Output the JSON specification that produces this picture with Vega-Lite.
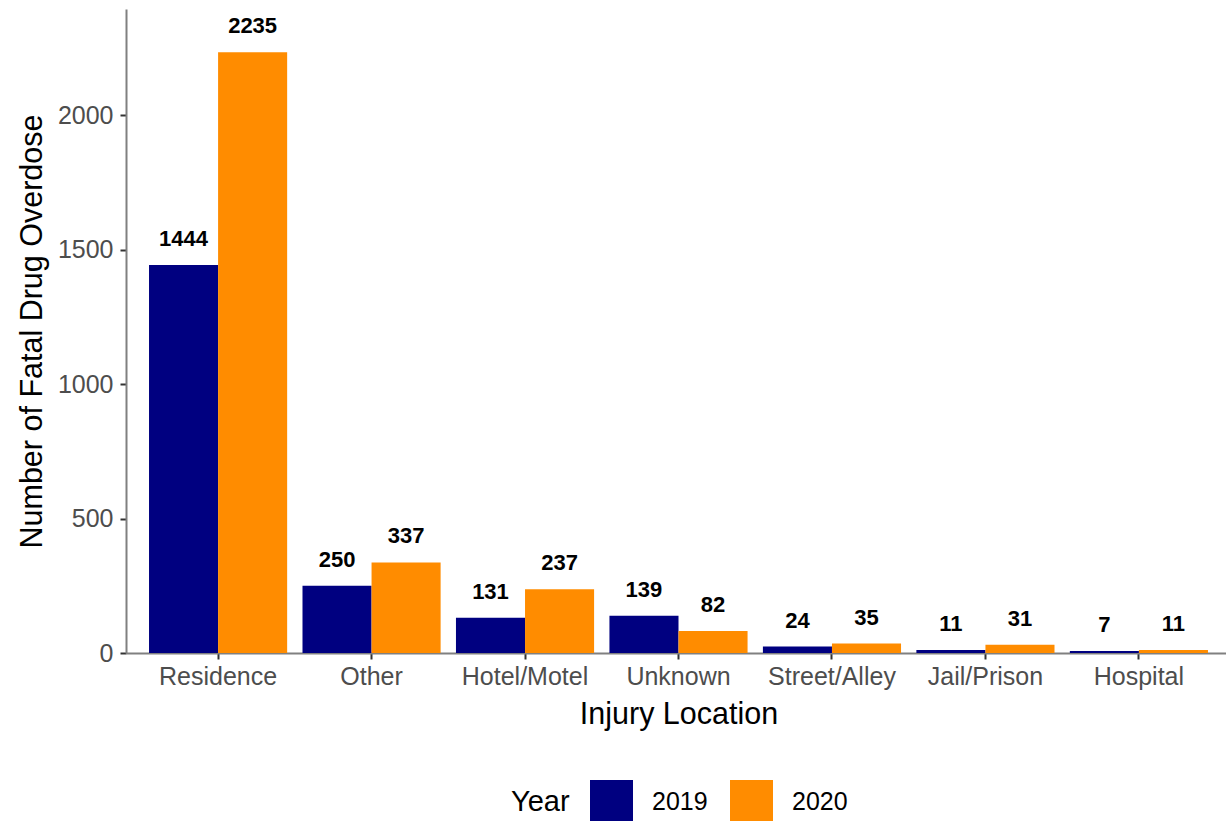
{
  "$schema": "https://vega.github.io/schema/vega-lite/v6.json",
  "width": 1105,
  "height": 644,
  "autosize": {"type": "none"},
  "padding": {"left": 126, "top": 9, "right": 0, "bottom": 168},
  "background": "white",
  "config": {
    "font": "Liberation Sans",
    "view": {"stroke": null},
    "axis": {
      "grid": false,
      "domainColor": "#808080",
      "domainWidth": 2,
      "tickColor": "#333333",
      "tickWidth": 2,
      "tickSize": 6,
      "labelColor": "#4d4d4d",
      "labelFontSize": 25,
      "titleFontSize": 30.5,
      "titleFontWeight": "normal",
      "titleColor": "#000000"
    }
  },
  "data": {
    "values": [
      {"location": "Residence", "year": "2019", "count": 1444},
      {"location": "Residence", "year": "2020", "count": 2235},
      {"location": "Other", "year": "2019", "count": 250},
      {"location": "Other", "year": "2020", "count": 337},
      {"location": "Hotel/Motel", "year": "2019", "count": 131},
      {"location": "Hotel/Motel", "year": "2020", "count": 237},
      {"location": "Unknown", "year": "2019", "count": 139},
      {"location": "Unknown", "year": "2020", "count": 82},
      {"location": "Street/Alley", "year": "2019", "count": 24},
      {"location": "Street/Alley", "year": "2020", "count": 35},
      {"location": "Jail/Prison", "year": "2019", "count": 11},
      {"location": "Jail/Prison", "year": "2020", "count": 31},
      {"location": "Hospital", "year": "2019", "count": 7},
      {"location": "Hospital", "year": "2020", "count": 11}
    ]
  },
  "encoding": {
    "x": {
      "field": "location",
      "type": "nominal",
      "sort": ["Residence", "Other", "Hotel/Motel", "Unknown", "Street/Alley", "Jail/Prison", "Hospital"],
      "scale": {"paddingInner": 0.1, "paddingOuter": 0.15},
      "title": "Injury Location",
      "axis": {"labelAngle": 0, "labelPadding": 5, "titlePadding": 10}
    },
    "xOffset": {
      "field": "year",
      "type": "nominal",
      "scale": {"paddingInner": 0, "paddingOuter": 0}
    },
    "y": {
      "field": "count",
      "type": "quantitative",
      "scale": {"domain": [0, 2396], "nice": false, "zero": true},
      "title": "Number of Fatal Drug Overdose",
      "axis": {"values": [0, 500, 1000, 1500, 2000], "format": "d", "labelPadding": 7, "titlePadding": 10}
    }
  },
  "layer": [
    {
      "mark": {"type": "bar"},
      "encoding": {
        "color": {
          "field": "year",
          "type": "nominal",
          "scale": {"domain": ["2019", "2020"], "range": ["#000080", "#FF8C00"]},
          "title": "Year",
          "legend": {
            "orient": "none",
            "legendX": 385,
            "legendY": 771,
            "direction": "horizontal",
            "titleOrient": "left",
            "titleFontSize": 29,
            "titleFontWeight": "normal",
            "titleColor": "#000000",
            "titleBaseline": "middle",
            "titlePadding": 20,
            "labelFontSize": 25,
            "labelColor": "#000000",
            "labelOffset": 19,
            "columnPadding": 22,
            "symbolType": "square",
            "symbolSize": 1849,
            "symbolStrokeWidth": 0,
            "symbolOpacity": 1
          }
        }
      }
    },
    {
      "mark": {"type": "text", "dy": -19, "baseline": "alphabetic", "fontWeight": "bold", "fontSize": 22, "color": "#000000"},
      "encoding": {"text": {"field": "count", "type": "quantitative"}}
    }
  ]
}
